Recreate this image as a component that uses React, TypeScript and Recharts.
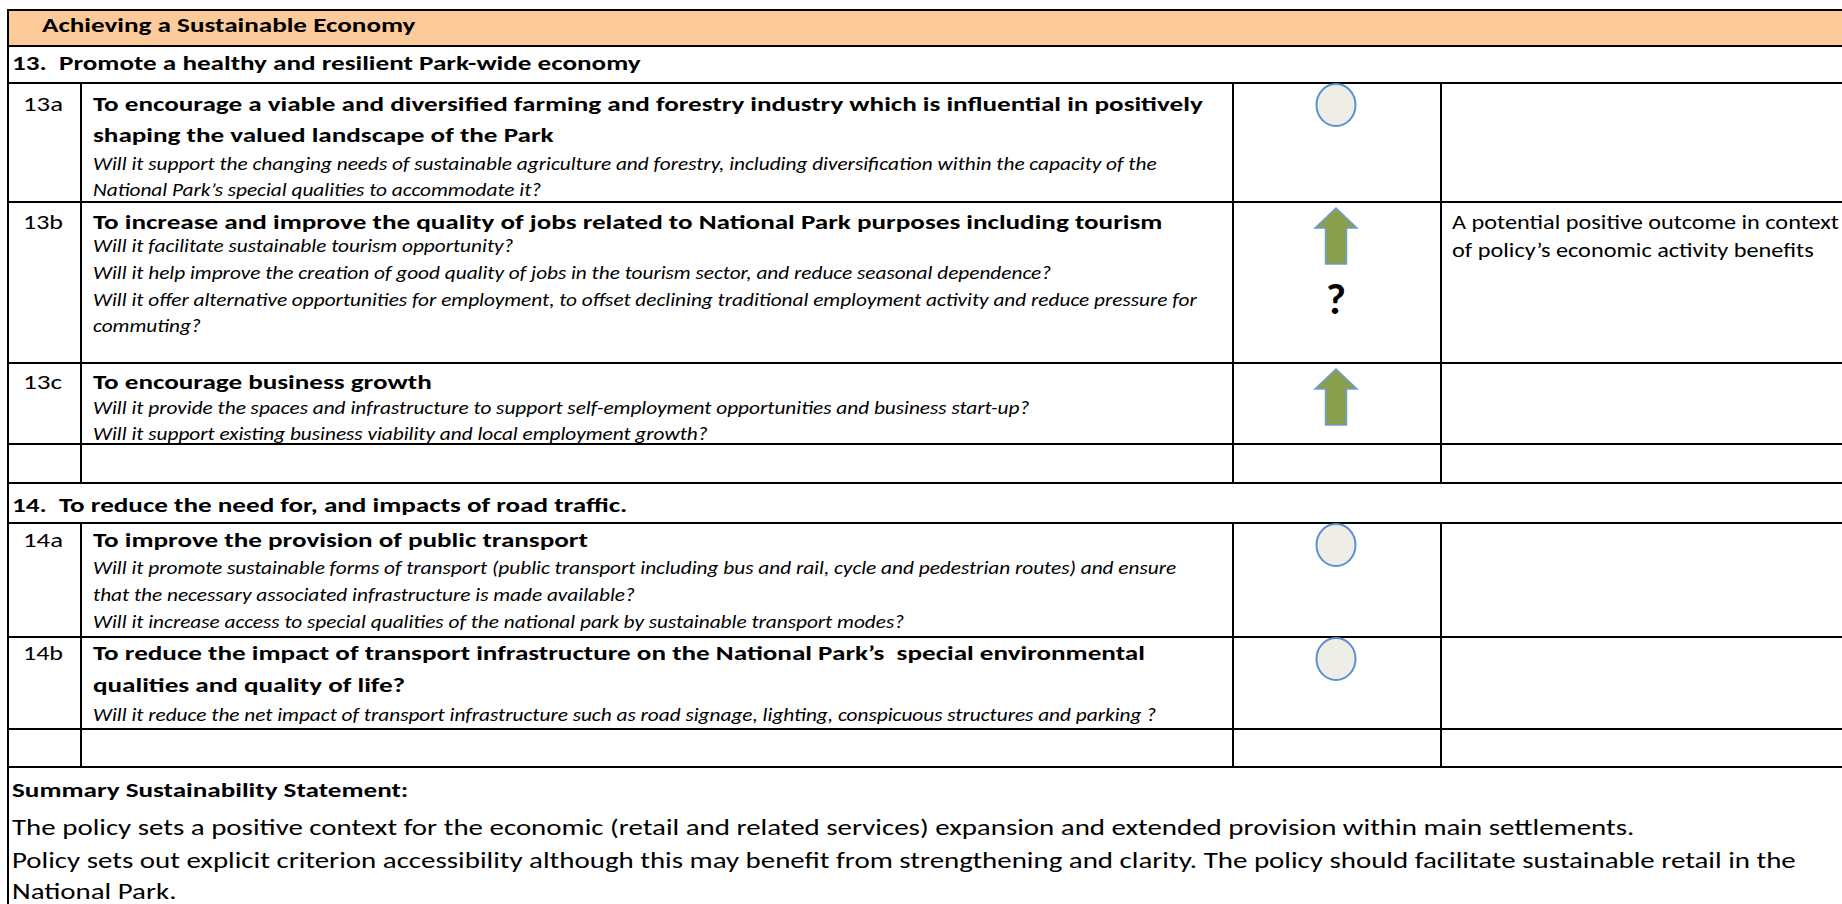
import { useEffect } from 'react'
import { ScatterChart, Scatter, XAxis, YAxis } from 'recharts'

const W = 1842
const H = 904

// assessment per objective row
const ROW_IDS = ['13a', '13b', '13c', '14a', '14b']
const RATINGS = ['neutral', 'positive', 'positive', 'neutral', 'neutral']
const UNCERTAIN = [false, true, false, false, false]
const COMMENTS = [
  [],
  ['A potential positive outcome in context', 'of policy’s economic activity benefits'],
  [],
  [],
  [],
]

// table layout (px)
const H_LINES = [10, 46, 83, 202, 363, 444, 483, 523, 637, 729, 767]
const ROW_TOP: Record<string, number> = { '13a': 83, '13b': 202, '13c': 363, '14a': 523, '14b': 637 }
const COL_X = [8, 81, 1233, 1441]
const GRID_SPANS = [[83, 483], [523, 767]]
const SYMBOL_X = 1336
const COMMENT_X = 1452

const FONT = 'Carlito, Calibri, Lato, sans-serif'

// g: style group. w on a line = its width in the reference, used to scale the whole group
type Line = { t: string; x: number; y: number; g: string; w?: number }

const STYLES: Record<string, { s: number; b?: boolean; i?: boolean; own?: boolean }> = {
  label: { s: 21, own: true },
  title: { s: 21, b: true },
  q: { s: 17.5, i: true },
  body: { s: 22 },
  note: { s: 21 },
}

const TEXT: Line[] = [
  { t: 'Achieving a Sustainable Economy', x: 42, y: 32, g: 'title' },
  { t: '13.  Promote a healthy and resilient Park-wide economy', x: 12, y: 70, g: 'title' },

  { t: '13a', x: 23, y: 111, g: 'label', w: 40 },
  { t: 'To encourage a viable and diversified farming and forestry industry which is influential in positively', x: 93, y: 111, g: 'title', w: 1097 },
  { t: 'shaping the valued landscape of the Park', x: 93, y: 142, g: 'title' },
  { t: 'Will it support the changing needs of sustainable agriculture and forestry, including diversification within the capacity of the', x: 93, y: 170, g: 'q', w: 1073 },
  { t: 'National Park’s special qualities to accommodate it?', x: 93, y: 196, g: 'q' },

  { t: '13b', x: 23, y: 229, g: 'label', w: 40 },
  { t: 'To increase and improve the quality of jobs related to National Park purposes including tourism', x: 93, y: 229, g: 'title', w: 1090 },
  { t: 'Will it facilitate sustainable tourism opportunity?', x: 93, y: 252, g: 'q' },
  { t: 'Will it help improve the creation of good quality of jobs in the tourism sector, and reduce seasonal dependence?', x: 93, y: 279, g: 'q', w: 896 },
  { t: 'Will it offer alternative opportunities for employment, to offset declining traditional employment activity and reduce pressure for', x: 93, y: 306, g: 'q', w: 1124 },
  { t: 'commuting?', x: 93, y: 332, g: 'q' },

  { t: '13c', x: 23, y: 389, g: 'label', w: 39 },
  { t: 'To encourage business growth', x: 93, y: 389, g: 'title' },
  { t: 'Will it provide the spaces and infrastructure to support self-employment opportunities and business start-up?', x: 93, y: 414, g: 'q', w: 923 },
  { t: 'Will it support existing business viability and local employment growth?', x: 93, y: 440, g: 'q' },

  { t: '14.  To reduce the need for, and impacts of road traffic.', x: 12, y: 512, g: 'title' },

  { t: '14a', x: 23, y: 547, g: 'label', w: 40 },
  { t: 'To improve the provision of public transport', x: 93, y: 547, g: 'title' },
  { t: 'Will it promote sustainable forms of transport (public transport including bus and rail, cycle and pedestrian routes) and ensure', x: 93, y: 574, g: 'q', w: 1091 },
  { t: 'that the necessary associated infrastructure is made available?', x: 93, y: 601, g: 'q' },
  { t: 'Will it increase access to special qualities of the national park by sustainable transport modes?', x: 93, y: 628, g: 'q', w: 844 },

  { t: '14b', x: 23, y: 660, g: 'label', w: 40 },
  { t: 'To reduce the impact of transport infrastructure on the National Park’s  special environmental', x: 93, y: 660, g: 'title', w: 1044 },
  { t: 'qualities and quality of life?', x: 93, y: 692, g: 'title' },
  { t: 'Will it reduce the net impact of transport infrastructure such as road signage, lighting, conspicuous structures and parking ?', x: 93, y: 721, g: 'q', w: 1068 },

  { t: 'Summary Sustainability Statement:', x: 12, y: 797, g: 'title' },
  { t: 'The policy sets a positive context for the economic (retail and related services) expansion and extended provision within main settlements.', x: 12, y: 835, g: 'body', w: 1577 },
  { t: 'Policy sets out explicit criterion accessibility although this may benefit from strengthening and clarity. The policy should facilitate sustainable retail in the', x: 12, y: 868, g: 'body', w: 1829 },
  { t: 'National Park.', x: 12, y: 899, g: 'body' },
]

const NOTE_REF = 387 // width of the first comment line

const symbolData = ROW_IDS.map((id, i) => ({
  id,
  rating: RATINGS[i],
  uncertain: UNCERTAIN[i],
  x: SYMBOL_X,
  y: ROW_TOP[id] + (RATINGS[i] === 'neutral' ? 22 : 34),
}))

let ctx: CanvasRenderingContext2D | null = null
function measure(t: string, g: string) {
  if (!ctx) ctx = document.createElement('canvas').getContext('2d')
  const st = STYLES[g]
  ctx!.font = `${st.i ? 'italic ' : ''}${st.b ? 'bold ' : ''}${st.s}px ${FONT}`
  return ctx!.measureText(t).width
}

// one horizontal scale per style group, so glyphs stay alike within a group
function groupScales() {
  const acc: Record<string, [number, number]> = {}
  TEXT.forEach((l) => {
    if (!l.w) return
    const a = acc[l.g] || [0, 0]
    a[0] += l.w
    a[1] += measure(l.t, l.g)
    acc[l.g] = a
  })
  const out: Record<string, number> = {}
  Object.keys(acc).forEach((k) => (out[k] = acc[k][0] / acc[k][1]))
  out.note = NOTE_REF / measure(COMMENTS[1][0], 'note')
  return out
}

function RatingSymbol(props: any) {
  const { cx, cy, payload } = props
  if (payload.rating === 'neutral') {
    return <ellipse cx={cx} cy={cy} rx={19.5} ry={21} fill="#eeeee6" stroke="#5b8fd0" strokeWidth={2} />
  }
  const pts = [
    [cx, cy - 28], [cx + 21, cy - 8], [cx + 10.5, cy - 8], [cx + 10.5, cy + 28],
    [cx - 10.5, cy + 28], [cx - 10.5, cy - 8], [cx - 21, cy - 8],
  ].map((p) => p.join(',')).join(' ')
  return (
    <g>
      <polygon points={pts} fill="#8a9f4c" stroke="#6f9bd6" strokeWidth={1.5} />
      {payload.uncertain && (
        <text x={cx} y={cy + 78} textAnchor="middle" fontFamily={FONT} fontWeight="bold" fontSize={43}>?</text>
      )}
    </g>
  )
}

function TableGrid() {
  const k = groupScales()
  const width = (t: string, g: string, w?: number) =>
    STYLES[g]?.own && w ? w : measure(t, g) * (k[g] || 1)

  return (
    <svg width={W} height={H} style={{ position: 'absolute', left: 0, top: 0 }}>
      <rect x={COL_X[0]} y={H_LINES[0]} width={W - COL_X[0]} height={H_LINES[1] - H_LINES[0]} fill="#fccb99" />
      {H_LINES.map((y) => (
        <line key={y} x1={COL_X[0] - 1} x2={W} y1={y} y2={y} stroke="#000" strokeWidth={2} />
      ))}
      <line x1={COL_X[0]} x2={COL_X[0]} y1={H_LINES[0] - 1} y2={H} stroke="#000" strokeWidth={2} />
      {COL_X.slice(1).map((x) =>
        GRID_SPANS.map(([a, b]) => (
          <line key={`${x}-${a}`} x1={x} x2={x} y1={a} y2={b} stroke="#000" strokeWidth={2} />
        ))
      )}
      {TEXT.map((l, i) => {
        const st = STYLES[l.g]
        return (
          <text
            key={i}
            x={l.x}
            y={l.y}
            fontFamily={FONT}
            fontSize={st.s}
            fontWeight={st.b ? 'bold' : 'normal'}
            fontStyle={st.i ? 'italic' : 'normal'}
            textLength={width(l.t, l.g, l.w)}
            lengthAdjust="spacingAndGlyphs"
            fill="#000"
            style={{ whiteSpace: 'pre' }}
          >
            {l.t}
          </text>
        )
      })}
      {COMMENTS.map((lines, i) =>
        lines.map((t, j) => (
          <text
            key={`c${i}-${j}`}
            x={COMMENT_X}
            y={ROW_TOP[ROW_IDS[i]] + 27 + j * 28}
            fontFamily={FONT}
            fontSize={STYLES.note.s}
            textLength={width(t, 'note')}
            lengthAdjust="spacingAndGlyphs"
          >
            {t}
          </text>
        ))
      )}
    </svg>
  )
}

export default function App() {
  useEffect(() => {
    document.body.style.margin = '0'
  }, [])

  return (
    <div style={{ position: 'fixed', left: 0, top: 0, width: W, height: H, background: '#fff', overflow: 'hidden' }}>
      <TableGrid />
      <div style={{ position: 'absolute', left: 0, top: 0 }}>
        <ScatterChart width={W} height={H} margin={{ top: 0, right: 0, bottom: 0, left: 0 }}>
          <XAxis type="number" dataKey="x" domain={[0, W]} hide />
          <YAxis type="number" dataKey="y" domain={[0, H]} reversed hide />
          <Scatter data={symbolData} shape={RatingSymbol} isAnimationActive={false} />
        </ScatterChart>
      </div>
    </div>
  )
}
